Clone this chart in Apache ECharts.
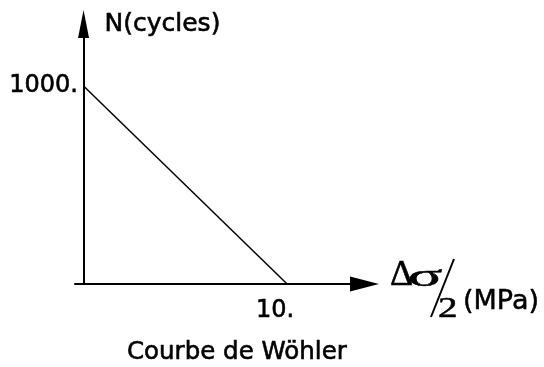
<!DOCTYPE html>
<html>
<head>
<meta charset="utf-8">
<script src="https://cdn.jsdelivr.net/npm/echarts@6/dist/echarts.min.js"></script>
<style>
  html, body { margin: 0; padding: 0; background: #fff; }
  #chart { width: 544px; height: 367px; }
</style>
</head>
<body>
<div id="chart"></div>
<script>
// Wöhler curve: number of cycles versus stress amplitude (linear sketch)
const stressAmplitude = [0, 10];        // Δσ/2 in MPa
const cycles = [1000, 0];               // N
const xTicks = [10];
const yTicks = [1000];
const yAxisTitle = 'N(cycles)';
const chartTitle = 'Courbe de Wöhler';

const SANS = 'DejaVu Sans';
const SERIF = 'Liberation Serif';
const INK = { color: '#000', textBorderColor: '#000', textBorderWidth: 0.6 };

const chart = echarts.init(document.getElementById('chart'));

function label(text, x, y, size, family, extra) {
  return Object.assign({
    type: 'text', x: x, y: y,
    style: {
      text: text,
      font: 'normal normal ' + size + 'px "' + family + '"',
      fill: '#000', stroke: '#000', lineWidth: 0.5,
      align: 'left', verticalAlign: 'middle'
    }
  }, extra || {});
}

chart.setOption({
  animation: false,
  backgroundColor: '#ffffff',
  title: {
    text: chartTitle,
    left: 127,
    top: 340,
    padding: 0,
    textStyle: Object.assign({ fontFamily: SANS, fontSize: 24.5, fontWeight: 'normal' }, INK)
  },
  grid: { left: 75, right: 179.5, top: 24, bottom: 83, containLabel: false },
  xAxis: {
    type: 'value',
    min: -0.42,
    max: 13.8,
    splitLine: { show: false },
    axisTick: { show: false },
    axisLine: {
      onZero: false,
      symbol: ['none', 'triangle'],
      symbolSize: [15, 29],
      lineStyle: { color: '#000', width: 2 }
    },
    axisLabel: Object.assign({
      customValues: xTicks,
      formatter: v => v + '.',
      margin: 15,
      padding: [0, 24, 0, 0],
      fontFamily: SANS,
      fontSize: 24
    }, INK)
  },
  yAxis: {
    type: 'value',
    min: 0,
    max: 1313,
    name: yAxisTitle,
    nameLocation: 'end',
    nameGap: 0,
    nameTextStyle: Object.assign({
      fontFamily: SANS, fontSize: 25,
      align: 'left', verticalAlign: 'middle', padding: [2, 0, 0, 21]
    }, INK),
    splitLine: { show: false },
    axisTick: { show: false },
    axisLine: {
      onZero: true,
      symbol: ['none', 'triangle'],
      symbolSize: [11, 28],
      lineStyle: { color: '#000', width: 2 }
    },
    axisLabel: Object.assign({
      customValues: yTicks,
      formatter: v => v + '.',
      margin: -3,
      padding: [0, 0, 9, 0],
      fontFamily: SANS,
      fontSize: 24
    }, INK)
  },
  series: [{
    type: 'line',
    data: stressAmplitude.map((x, i) => [x, cycles[i]]),
    showSymbol: false,
    symbol: 'none',
    lineStyle: { color: '#000', width: 1.5 },
    z: 1
  }],
  // stress amplitude label: Δσ over a slash, then 2 and the unit
  graphic: [
    label('Δ', 390, 276, 36, SERIF),
    label('σ', 408, 278, 32, SERIF, { scaleX: 2.0 }),
    { type: 'line', shape: { x1: 454, y1: 259, x2: 431, y2: 317 }, style: { stroke: '#000', lineWidth: 2 } },
    label('2', 438, 309, 30, SERIF, { scaleX: 1.3 }),
    label('(MPa)', 463, 302, 27, SANS)
  ]
});
</script>
</body>
</html>
